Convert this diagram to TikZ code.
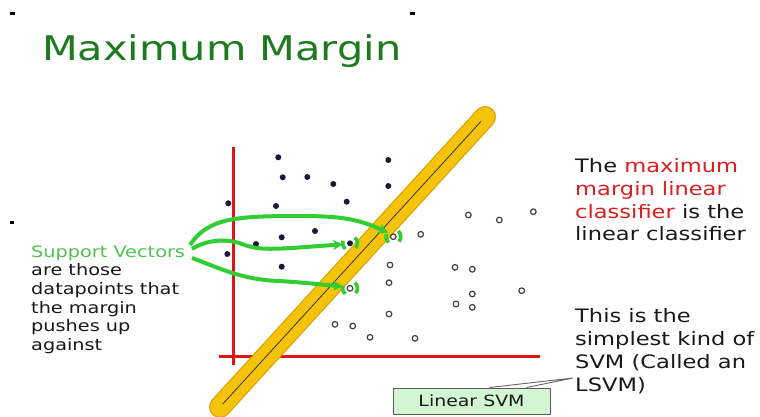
\documentclass[tikz,border=0pt]{standalone}
\usepackage{fontspec}
\setmainfont{DejaVu Sans}[FakeStretch=1.22]
\usetikzlibrary{arrows.meta,calc}
\definecolor{titlegreen}{RGB}{30,122,30}
\definecolor{svgreen}{RGB}{80,195,80}
\definecolor{arrowgreen}{RGB}{50,205,50}
\definecolor{txt}{RGB}{25,25,25}
\definecolor{hired}{RGB}{220,30,30}
\definecolor{axisred}{RGB}{225,20,20}
\definecolor{band}{RGB}{245,196,10}
\definecolor{bandedge}{RGB}{215,165,0}
\definecolor{navy}{RGB}{25,25,60}
\definecolor{boxgreen}{RGB}{210,245,210}
\begin{document}
\begin{tikzpicture}[x=1pt,y=-1pt,
  posdot/.style={circle,fill=navy,inner sep=0pt,minimum size=6pt},
  negdot/.style={circle,draw=black!75,line width=1.2pt,fill=white,inner sep=0pt,minimum size=5.6pt},
  rtext/.style={anchor=base west,inner sep=0pt,font=\fontsize{18.5}{22}\selectfont,text=txt},
  ltext/.style={anchor=base west,inner sep=0pt,font=\fontsize{15.8}{19}\selectfont,text=txt},
  svarrow/.style={draw=arrowgreen,line width=4pt,-{Stealth[length=10pt,width=10pt]}},
  svmark/.style={draw=arrowgreen,line width=3.6pt},
  axisline/.style={draw=axisred,line width=3pt},
  blackmark/.style={fill=black}]
\useasboundingbox (0,0) rectangle (760,416);
\fill[white] (0,0) rectangle (760,416);
% small marks
\fill[blackmark] (10,11.5) rectangle (15,15);
\fill[blackmark] (410,11.5) rectangle (415,15);
\fill[blackmark] (10,220.5) rectangle (14,224);
% title
\node[anchor=base west,inner sep=0pt,font=\fontsize{34}{40}\selectfont,text=titlegreen] (title) at (42,60) {Maximum Margin};
% axes
\draw[axisline] (233,147) -- (233,365);
\draw[axisline] (219,356) -- (540,356);
% band
\coordinate (bA) at (220,407);
\coordinate (bB) at (485,117);
\draw[bandedge,line width=22pt,line cap=round] (bA) -- (bB);
\draw[band,line width=19.5pt,line cap=round] (bA) -- (bB);
\draw[black!80,line width=0.8pt] ($(bA)!0.01!(bB)$) -- ($(bA)!0.985!(bB)$);
% filled points
\node[posdot] (p1) at (278.3,157.3) {};
\node[posdot] (p2) at (388.3,160) {};
\node[posdot] (p3) at (282.7,177.3) {};
\node[posdot] (p4) at (307.3,177) {};
\node[posdot] (p5) at (333.3,184) {};
\node[posdot] (p6) at (388.3,186) {};
\node[posdot] (p7) at (228.3,203.3) {};
\node[posdot] (p8) at (276,206) {};
\node[posdot] (p9) at (346.7,201.7) {};
\node[posdot] (p10) at (315,231) {};
\node[posdot] (p11) at (281.7,237.3) {};
\node[posdot] (p12) at (256,244) {};
\node[posdot] (p13) at (227.3,254) {};
\node[posdot] (p14) at (281.7,266.7) {};
\node[posdot] (sv2) at (350,243.3) {};
% open points
\node[negdot] (n1) at (468.3,215) {};
\node[negdot] (n2) at (499.3,220) {};
\node[negdot] (n3) at (533.3,211.7) {};
\node[negdot] (n4) at (420.7,234.3) {};
\node[negdot] (sv1) at (393.3,236.7) {};
\node[negdot] (n5) at (390,265) {};
\node[negdot] (n6) at (455,267.3) {};
\node[negdot] (n7) at (472.3,269.3) {};
\node[negdot] (n8) at (389,282.7) {};
\node[negdot] (sv3) at (350,288.3) {};
\node[negdot] (n9) at (472.3,294) {};
\node[negdot] (n10) at (521.7,290.7) {};
\node[negdot] (n11) at (456,304) {};
\node[negdot] (n12) at (472.3,307.3) {};
\node[negdot] (n13) at (389,314) {};
\node[negdot] (n14) at (335,324.3) {};
\node[negdot] (n15) at (352.7,326) {};
\node[negdot] (n16) at (370,337.3) {};
\node[negdot] (n17) at (415,338.3) {};
% support vector marks
\foreach \s in {sv1,sv2,sv3}{
  \draw[svmark] ([shift={(130:7.5)}]\s.center) arc[start angle=130,end angle=200,radius=7.5];
  \draw[svmark] ([shift={(-50:7.5)}]\s.center) arc[start angle=-50,end angle=40,radius=7.5];
}
% left text
\node[ltext,text=svgreen] (svt) at (31,257) {Support Vectors};
\node[ltext] (l2) at (31,275.7) {are those};
\node[ltext] (l3) at (31,294.4) {datapoints that};
\node[ltext] (l4) at (31,313.1) {the margin};
\node[ltext] (l5) at (31,331.8) {pushes up};
\node[ltext] (l6) at (31,350.5) {against};
% arrows
\coordinate (a1) at (190,245);
\coordinate (a2) at (192,249);
\coordinate (a3) at (192,258);
\draw[svarrow] (a1) .. controls (208,218) and (235,216) .. (300,216) .. controls (345,216) and (360,220) .. ([shift={(-5,-4)}]sv1.center);
\draw[svarrow] (a2) .. controls (206,240) and (226,238) .. (242,244) .. controls (256,250) and (272,249) .. (292,248) -- ([shift={(-7,1)}]sv2.center);
\draw[svarrow] (a3) .. controls (215,266) and (240,280) .. (280,281) .. controls (310,283) and (325,285) .. ([shift={(-7,-2)}]sv3.center);
% right text
\node[rtext] (r1) at (575,172.5) {The \textcolor{hired}{maximum}};
\node[rtext,text=hired] (r2) at (575,195.3) {margin linear};
\node[rtext] (r3) at (575,218.1) {\textcolor{hired}{classifier} is the};
\node[rtext] (r4) at (575,240.9) {linear classifier};
\node[rtext] (s1) at (575,322) {This is the};
\node[rtext] (s2) at (575,345) {simplest kind of};
\node[rtext] (s3) at (575,368) {SVM (Called an};
\node[rtext] (s4) at (575,391) {LSVM)};
% callout box
\node[draw=black!65,line width=1pt,fill=boxgreen,minimum width=157pt,minimum height=26pt,inner sep=0pt,font=\fontsize{15.5}{18}\selectfont,text=txt] (lsvm) at (471.5,401) {Linear SVM};
\coordinate (tip) at (573,378);
\filldraw[draw=black!60,fill=white,line width=0.9pt] ([xshift=18pt]lsvm.north) -- (tip) -- ([xshift=55pt]lsvm.north);
\end{tikzpicture}
\end{document}
